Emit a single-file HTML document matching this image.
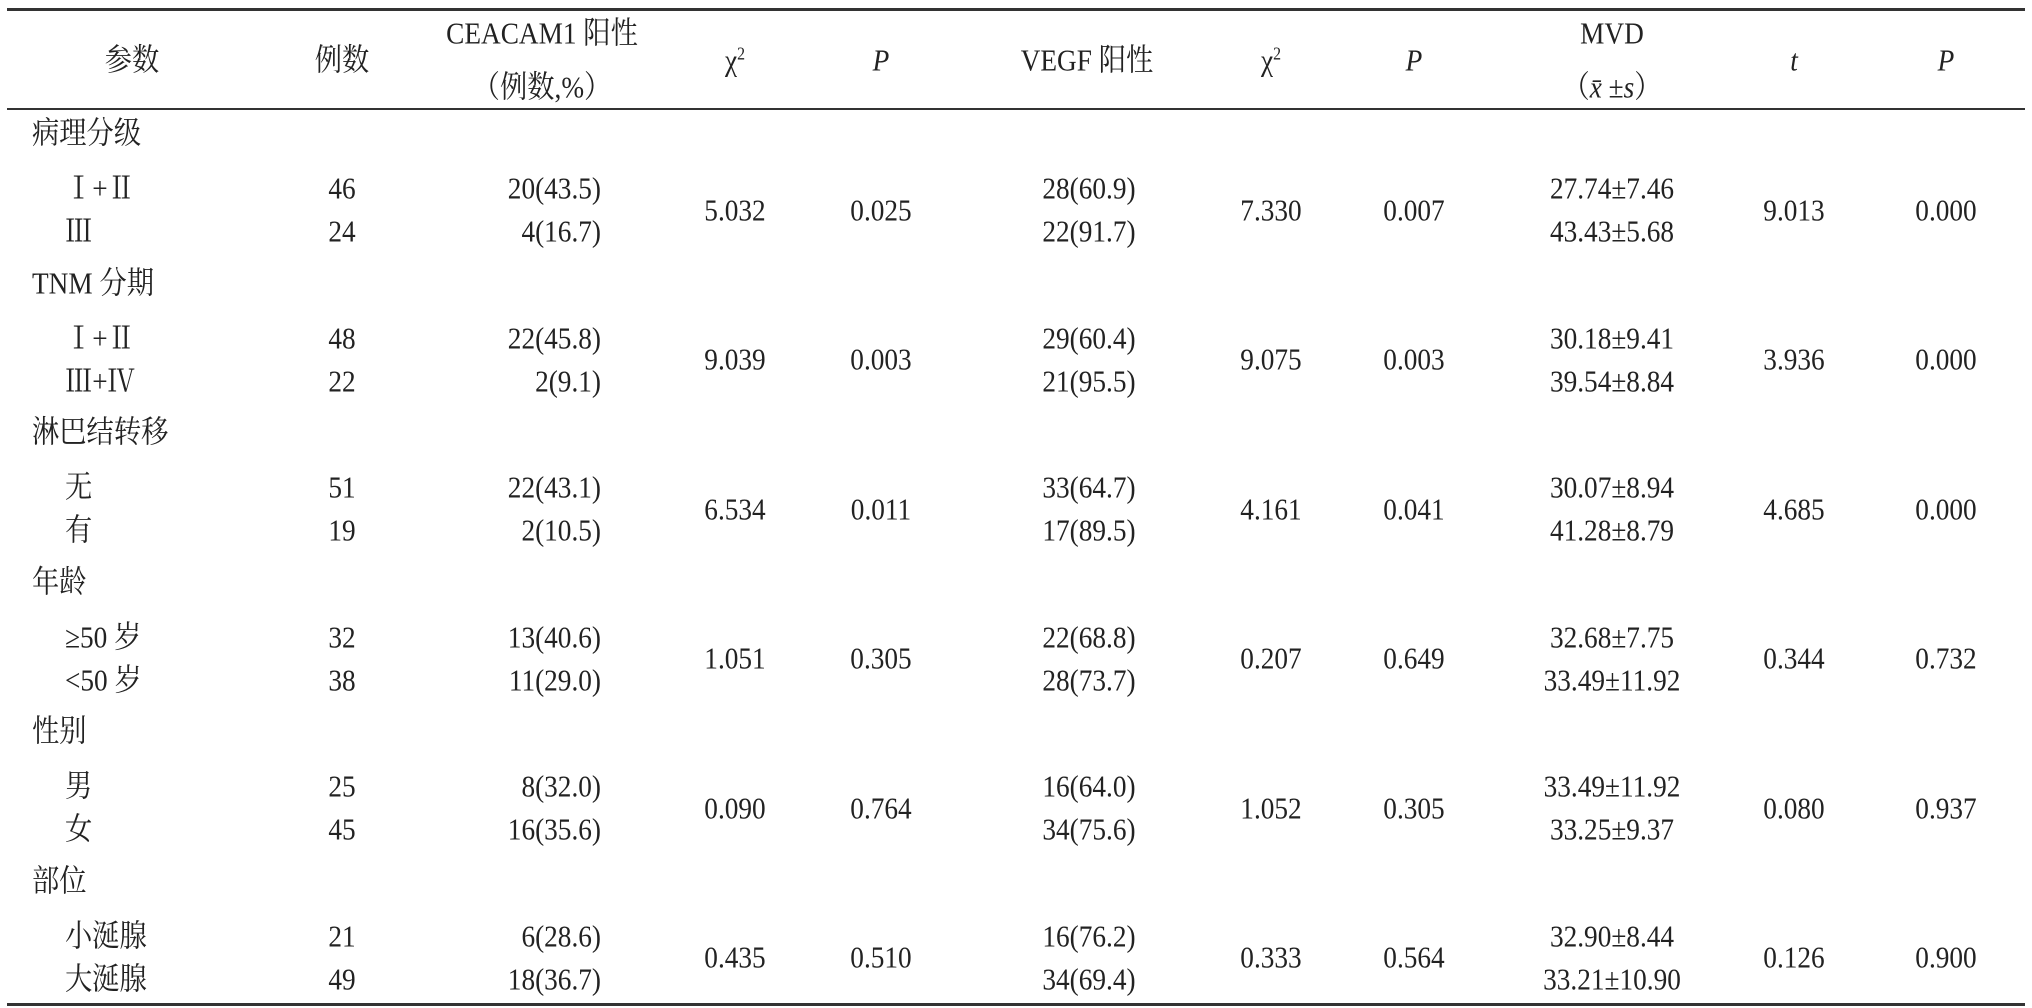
<!DOCTYPE html>
<html><head><meta charset="utf-8">
<style>
html,body{margin:0;padding:0;background:#fff;}
#t{position:relative;width:2032px;height:1008px;overflow:hidden;font-family:"Liberation Serif","Noto Serif CJK SC","Noto Sans CJK SC",serif;color:#222;font-size:31px;}
.c{position:absolute;white-space:nowrap;line-height:1;transform:translate(-50%,-50%) scaleX(.88);}
.l{position:absolute;white-space:nowrap;line-height:1;transform:translate(0,-50%) scaleX(.88);transform-origin:left center;}
.r{position:absolute;white-space:nowrap;line-height:1;transform:translate(-100%,-50%) scaleX(.88);transform-origin:right center;}
.rule{position:absolute;left:7px;width:2018px;background:#333;}
i{font-style:italic;}
</style></head><body>
<div id="t">
<div class="rule" style="top:8px;height:3px"></div>
<div class="rule" style="top:108px;height:2px"></div>
<div class="rule" style="top:1003px;height:3px"></div>
<div class="c" style="left:132px;top:60px">参数</div>
<div class="c" style="left:342px;top:60px">例数</div>
<div class="c" style="left:542px;top:33px">CEACAM1 阳性</div>
<div class="c" style="left:542px;top:87px">（例数,%）</div>
<div class="c" style="left:735px;top:60px">χ<sup style="font-size:18px">2</sup></div>
<div class="c" style="left:881px;top:60px"><i>P</i></div>
<div class="c" style="left:1087px;top:60px">VEGF 阳性</div>
<div class="c" style="left:1271px;top:60px">χ<sup style="font-size:18px">2</sup></div>
<div class="c" style="left:1414px;top:60px"><i>P</i></div>
<div class="c" style="left:1612px;top:33px">MVD</div>
<div class="c" style="left:1612px;top:87px">（<i>x̄</i> ±<i>s</i>）</div>
<div class="c" style="left:1794px;top:60px"><i>t</i></div>
<div class="c" style="left:1946px;top:60px"><i>P</i></div>
</div>
<script>
const groups=["病理分级","TNM 分期","淋巴结转移","年龄","性别","部位"];
const subs=[["Ⅰ+Ⅱ","Ⅲ"],["Ⅰ+Ⅱ","Ⅲ+Ⅳ"],["无","有"],["≥50 岁","<50 岁"],["男","女"],["小涎腺","大涎腺"]];
const cases=[["46","24"],["48","22"],["51","19"],["32","38"],["25","45"],["21","49"]];
const ceacam=[["20(43.5)","4(16.7)"],["22(45.8)","2(9.1)"],["22(43.1)","2(10.5)"],["13(40.6)","11(29.0)"],["8(32.0)","16(35.6)"],["6(28.6)","18(36.7)"]];
const chi1=["5.032","9.039","6.534","1.051","0.090","0.435"];
const p1=["0.025","0.003","0.011","0.305","0.764","0.510"];
const vegf=[["28(60.9)","22(91.7)"],["29(60.4)","21(95.5)"],["33(64.7)","17(89.5)"],["22(68.8)","28(73.7)"],["16(64.0)","34(75.6)"],["16(76.2)","34(69.4)"]];
const chi2=["7.330","9.075","4.161","0.207","1.052","0.333"];
const p2=["0.007","0.003","0.041","0.649","0.305","0.564"];
const mvd=[["27.74±7.46","43.43±5.68"],["30.18±9.41","39.54±8.84"],["30.07±8.94","41.28±8.79"],["32.68±7.75","33.49±11.92"],["33.49±11.92","33.25±9.37"],["32.90±8.44","33.21±10.90"]];
const tv=["9.013","3.936","4.685","0.344","0.080","0.126"];
const p3=["0.000","0.000","0.000","0.732","0.937","0.900"];
const T=document.getElementById('t');
function put(cls,x,y,txt,name){
  const d=document.createElement('div');
  d.className=cls;d.style.left=x+'px';d.style.top=y+'px';d.textContent=txt;
  
  
  T.appendChild(d);
}
groups.forEach((g,i)=>{
  const y=133+149.5*i;
  put('l',32,y,g,'group-label');
  for(let k=0;k<2;k++){
    const yy=y+(k?98:55);
    put('l',65,yy,subs[i][k],'subgroup-label');
    put('c',342,yy,cases[i][k],'cases-cell');
    put('r',601,yy,ceacam[i][k],'ceacam1-cell');
    put('c',1089,yy,vegf[i][k],'vegf-cell');
    put('c',1612,yy,mvd[i][k],'mvd-cell');
  }
  const ym=y+76.5;
  put('c',735,ym,chi1[i],'chi1-cell');
  put('c',881,ym,p1[i],'p1-cell');
  put('c',1271,ym,chi2[i],'chi2-cell');
  put('c',1414,ym,p2[i],'p2-cell');
  put('c',1794,ym,tv[i],'t-cell');
  put('c',1946,ym,p3[i],'p3-cell');
});
</script>
</body></html>
